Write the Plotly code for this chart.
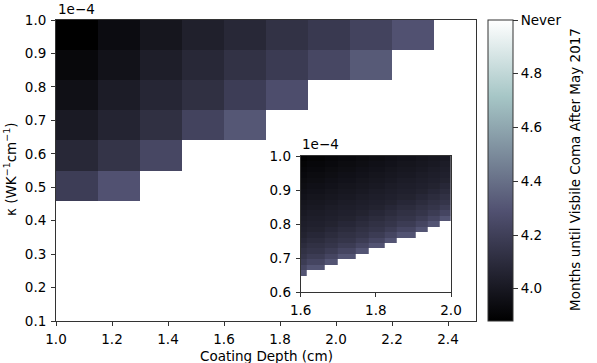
import plotly.graph_objects as go

# ---------------- data ----------------
# main panel: cell edges (coating depth in cm, kappa in units of 1e-4 W K^-1 cm^-1)
depth_edges = [1.0, 1.15, 1.3, 1.45, 1.6, 1.75, 1.9, 2.05, 2.2, 2.35, 2.5]
kappa_edges = [0.1, 0.19, 0.28, 0.37, 0.46, 0.55, 0.64, 0.73, 0.82, 0.91, 1.0]
N = None
# months until visible coma, rows from lowest kappa to highest, None = never
months = [
    [N, N, N, N, N, N, N, N, N, N],
    [N, N, N, N, N, N, N, N, N, N],
    [N, N, N, N, N, N, N, N, N, N],
    [N, N, N, N, N, N, N, N, N, N],
    [4.19, 4.29, N, N, N, N, N, N, N, N],
    [4.08, 4.14, 4.24, N, N, N, N, N, N, N],
    [4.01, 4.06, 4.12, 4.22, 4.31, N, N, N, N, N],
    [3.96, 4.02, 4.07, 4.12, 4.19, 4.27, N, N, N, N],
    [3.92, 3.97, 4.03, 4.08, 4.13, 4.18, 4.24, 4.32, N, N],
    [3.88, 3.94, 3.99, 4.04, 4.08, 4.13, 4.17, 4.22, 4.29, N],
]

# inset panel (zoomed region)
inset_depth_edges = [1.6, 1.615, 1.664, 1.698, 1.746, 1.780, 1.823, 1.856, 1.905, 1.938, 1.969, 2.0]
inset_kappa_edges = [0.6, 0.616, 0.632, 0.648, 0.664, 0.68, 0.696, 0.712, 0.728, 0.744, 0.76,
                     0.776, 0.792, 0.808, 0.824, 0.84, 0.856, 0.872, 0.888, 0.904, 0.92,
                     0.936, 0.952, 0.968, 0.984, 1.0]
inset_months = [
    [N, N, N, N, N, N, N, N, N, N, N],
    [N, N, N, N, N, N, N, N, N, N, N],
    [N, N, N, N, N, N, N, N, N, N, N],
    [4.40, N, N, N, N, N, N, N, N, N, N],
    [4.34, 4.40, N, N, N, N, N, N, N, N, N],
    [4.30, 4.34, 4.40, N, N, N, N, N, N, N, N],
    [4.27, 4.30, 4.34, 4.40, N, N, N, N, N, N, N],
    [4.25, 4.27, 4.30, 4.34, 4.40, N, N, N, N, N, N],
    [4.23, 4.25, 4.27, 4.30, 4.34, 4.40, N, N, N, N, N],
    [4.21, 4.23, 4.25, 4.27, 4.30, 4.34, 4.40, N, N, N, N],
    [4.19, 4.21, 4.23, 4.25, 4.27, 4.30, 4.34, 4.40, N, N, N],
    [4.18, 4.19, 4.21, 4.23, 4.25, 4.27, 4.30, 4.34, 4.40, N, N],
    [4.17, 4.18, 4.19, 4.21, 4.23, 4.25, 4.27, 4.30, 4.34, 4.40, N],
    [4.16, 4.17, 4.18, 4.19, 4.21, 4.23, 4.25, 4.27, 4.30, 4.34, 4.40],
    [4.15, 4.16, 4.17, 4.18, 4.19, 4.21, 4.23, 4.25, 4.27, 4.30, 4.34],
    [4.14, 4.15, 4.16, 4.17, 4.18, 4.19, 4.21, 4.23, 4.25, 4.27, 4.30],
    [4.13, 4.14, 4.15, 4.16, 4.17, 4.18, 4.19, 4.21, 4.23, 4.25, 4.27],
    [4.12, 4.13, 4.14, 4.15, 4.16, 4.17, 4.18, 4.19, 4.21, 4.23, 4.25],
    [4.11, 4.12, 4.13, 4.14, 4.15, 4.16, 4.17, 4.18, 4.19, 4.21, 4.23],
    [4.10, 4.11, 4.12, 4.13, 4.14, 4.15, 4.16, 4.17, 4.18, 4.19, 4.21],
    [4.09, 4.10, 4.11, 4.12, 4.13, 4.14, 4.15, 4.16, 4.17, 4.18, 4.19],
    [4.08, 4.09, 4.10, 4.11, 4.12, 4.13, 4.14, 4.15, 4.16, 4.17, 4.18],
    [4.07, 4.08, 4.09, 4.10, 4.11, 4.12, 4.13, 4.14, 4.15, 4.16, 4.17],
    [4.06, 4.07, 4.08, 4.09, 4.10, 4.11, 4.12, 4.13, 4.14, 4.15, 4.16],
    [4.05, 4.06, 4.07, 4.08, 4.09, 4.10, 4.11, 4.12, 4.13, 4.14, 4.15],
]

main_xticks = [1.0, 1.2, 1.4, 1.6, 1.8, 2.0, 2.2, 2.4]
main_yticks = [0.1, 0.2, 0.3, 0.4, 0.5, 0.6, 0.7, 0.8, 0.9, 1.0]
inset_xticks = [1.6, 1.8, 2.0]
inset_yticks = [0.6, 0.7, 0.8, 0.9, 1.0]
cbar_ticks = [4.0, 4.2, 4.4, 4.6, 4.8, 5.0]
cbar_ticktext = ["4.0", "4.2", "4.4", "4.6", "4.8", "Never"]

# ---------------- style ----------------
bone = [
    [0.0, "rgb(0,0,0)"],
    [0.365079, "rgb(81,81,113)"],
    [0.746032, "rgb(166,198,198)"],
    [1.0, "rgb(255,255,255)"],
]
FONT = "DejaVu Sans"
FS = 13.5
AX = "#333333"

W, H = 597, 363
L, R, T, B = 56, 476, 20, 321  # main axes box in pixels


def px_x(px):
    return (px - L) / (R - L)


def px_y(py):
    return (B - py) / (B - T)


fig = go.Figure()
fig.add_trace(go.Heatmap(
    x=depth_edges, y=kappa_edges, z=months,
    colorscale=bone, zmin=3.88, zmax=5.0,
    hoverongaps=False,
    colorbar=dict(
        x=px_x(488), xanchor="left", xref="paper", xpad=0,
        y=0.5, yanchor="middle", len=1.0, lenmode="fraction", ypad=0,
        thickness=25, outlinewidth=1, outlinecolor=AX,
        tickvals=cbar_ticks, ticktext=cbar_ticktext,
        ticks="outside", ticklen=5, tickwidth=1, tickcolor=AX,
        tickfont=dict(family=FONT, size=FS, color="black"),
    ),
))
fig.add_trace(go.Heatmap(
    x=inset_depth_edges, y=inset_kappa_edges, z=inset_months,
    colorscale=bone, zmin=4.04, zmax=5.0, showscale=False,
    hoverongaps=False, xaxis="x2", yaxis="y2",
))

axis_common = dict(
    showline=True, linecolor=AX, linewidth=1, mirror=True,
    ticks="outside", ticklen=4, tickwidth=1, tickcolor=AX,
    showgrid=False, zeroline=False, automargin=False,
    tickfont=dict(family=FONT, size=FS, color="black"),
)

fig.update_layout(
    width=W, height=H,
    margin=dict(l=L, r=W - R, t=T, b=H - B, pad=0, autoexpand=False),
    paper_bgcolor="white", plot_bgcolor="white",
    font=dict(family=FONT, size=FS, color="black"),
    xaxis=dict(domain=[0, 1], range=[1.0, 2.5], tickvals=main_xticks,
               ticktext=[f"{v:.1f}" for v in main_xticks],
               ticklabelstandoff=2, **axis_common),
    yaxis=dict(domain=[0, 1], range=[0.1, 1.0], tickvals=main_yticks,
               ticktext=[f"{v:.1f}" for v in main_yticks],
               ticklabelstandoff=2, **axis_common),
    xaxis2=dict(domain=[px_x(300.7), px_x(451)], range=[1.6, 2.0], anchor="y2",
                tickvals=inset_xticks, ticktext=[f"{v:.1f}" for v in inset_xticks],
                ticklabelstandoff=2, **axis_common),
    yaxis2=dict(domain=[px_y(292), px_y(156)], range=[0.6, 1.0], anchor="x2",
                tickvals=inset_yticks, ticktext=[f"{v:.1f}" for v in inset_yticks],
                ticklabelstandoff=2, **axis_common),
    annotations=[
        dict(text="1e\u22124", x=px_x(56), y=px_y(19), xref="paper", yref="paper",
             xanchor="left", yanchor="bottom", showarrow=False,
             font=dict(family=FONT, size=FS)),
        dict(text="1e\u22124", x=px_x(300), y=px_y(154), xref="paper", yref="paper",
             xanchor="left", yanchor="bottom", showarrow=False,
             font=dict(family=FONT, size=FS)),
        dict(text="Coating Depth (cm)", x=px_x(266), y=px_y(356), xref="paper", yref="paper",
             xanchor="center", yanchor="middle", showarrow=False,
             font=dict(family=FONT, size=FS)),
        dict(text="\u03ba (WK<sup>\u22121</sup>cm<sup>\u22121</sup>)",
             x=px_x(10), y=px_y(170), xref="paper", yref="paper",
             xanchor="center", yanchor="middle", textangle=-90, showarrow=False,
             font=dict(family=FONT, size=FS)),
        dict(text="Months until Visbile Coma After May 2017",
             x=px_x(575), y=px_y(170), xref="paper", yref="paper",
             xanchor="center", yanchor="middle", textangle=-90, showarrow=False,
             font=dict(family=FONT, size=FS)),
    ],
)

fig.write_html("out.html", config={"displayModeBar": False},
               post_script="document.body.style.margin='0';")
